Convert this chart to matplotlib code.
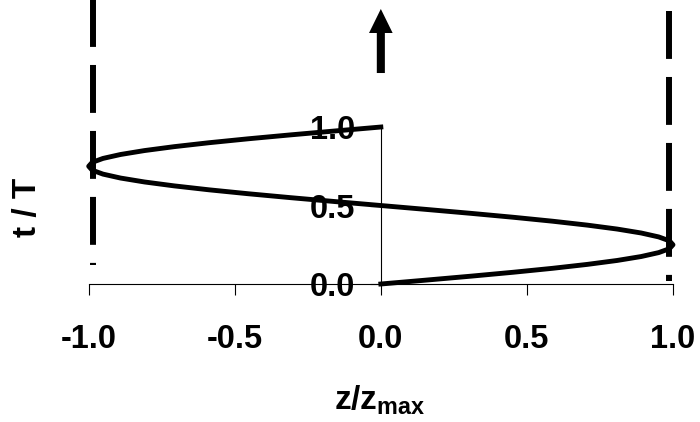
import matplotlib
matplotlib.use("Agg")
import matplotlib.pyplot as plt

# ---- data ----
t_over_T = [0.000, 0.025, 0.050, 0.075, 0.100, 0.125, 0.150, 0.175, 0.200, 0.225,
            0.250, 0.275, 0.300, 0.325, 0.350, 0.375, 0.400, 0.425, 0.450, 0.475,
            0.500, 0.525, 0.550, 0.575, 0.600, 0.625, 0.650, 0.675, 0.700, 0.725,
            0.750, 0.775, 0.800, 0.825, 0.850, 0.875, 0.900, 0.925, 0.950, 0.975,
            1.000]
z_over_zmax = [0.000, 0.156, 0.309, 0.454, 0.588, 0.707, 0.809, 0.891, 0.951, 0.988,
               1.000, 0.988, 0.951, 0.891, 0.809, 0.707, 0.588, 0.454, 0.309, 0.156,
               0.000, -0.156, -0.309, -0.454, -0.588, -0.707, -0.809, -0.891, -0.951, -0.988,
               -1.000, -0.988, -0.951, -0.891, -0.809, -0.707, -0.588, -0.454, -0.309, -0.156,
               0.000]
x_ticks = [-1.0, -0.5, 0.0, 0.5, 1.0]
x_tick_labels = ["-1.0", "-0.5", "0.0", "0.5", "1.0"]
y_ticks = [0.0, 0.5, 1.0]
y_tick_labels = ["0.0", "0.5", "1.0"]

plt.rcParams['font.family'] = ['Liberation Sans', 'DejaVu Sans']
plt.rcParams['font.weight'] = 'bold'
plt.rcParams['mathtext.fontset'] = 'custom'
plt.rcParams['mathtext.rm'] = 'Liberation Sans'
plt.rcParams['mathtext.bf'] = 'Liberation Sans:bold'
plt.rcParams['lines.scale_dashes'] = False

fig = plt.figure(figsize=(7.0, 4.22), dpi=100)
ax = fig.add_axes([0.1267, 0.3270, 0.8347, 0.3720])
ax.set_xlim(-1, 1)
ax.set_ylim(0, 1)

# curve
ax.plot(z_over_zmax, t_over_T, color='black', lw=3.5, clip_on=False,
        solid_joinstyle='round', zorder=3)

# dashed amplitude bounds (decorations)
dash = (34.5, 13.0)
ax.plot([-0.985, -0.985], [1.841, 0.121], color='black', lw=4.3,
        dashes=dash, clip_on=False, zorder=2)
ax.plot([0.986, 0.986], [1.739, 0.019], color='black', lw=4.3,
        dashes=dash, clip_on=False, zorder=2)

# arrow
ax.annotate('', xy=(0, 1.752), xytext=(0, 1.344), annotation_clip=False,
            arrowprops=dict(arrowstyle='simple,head_length=1.73,head_width=1.7,tail_width=0.58',
                            mutation_scale=10, fc='black', ec='none',
                            shrinkA=0, shrinkB=0))

# spines
ax.spines['top'].set_visible(False)
ax.spines['right'].set_visible(False)
ax.spines['left'].set_position(('data', 0))
for s in ('left', 'bottom'):
    ax.spines[s].set_linewidth(0.8)
    ax.spines[s].set_color('black')

ax.set_xticks(x_ticks)
ax.set_xticklabels(x_tick_labels)
ax.set_yticks(y_ticks)
ax.set_yticklabels(y_tick_labels)
ax.tick_params(axis='x', direction='out', length=8, width=0.8, pad=21, labelsize=23.5)
ax.tick_params(axis='y', direction='out', length=8, width=0.8, pad=10.5, labelsize=23.5)
for lab in ax.get_xticklabels() + ax.get_yticklabels():
    lab.set_fontweight('bold')

ax.set_xlabel(r'$\mathbf{z/z_{max}}$', fontsize=24)
ax.xaxis.set_label_coords(0.4985, -0.8025)
ax.xaxis.label.set_va('baseline')

ax.set_ylabel('t / T', fontsize=24, fontweight='bold')
ax.yaxis.set_label_coords(-0.0902, 0.49)
ax.yaxis.label.set_va('baseline')

fig.savefig('out.png', dpi=100)
